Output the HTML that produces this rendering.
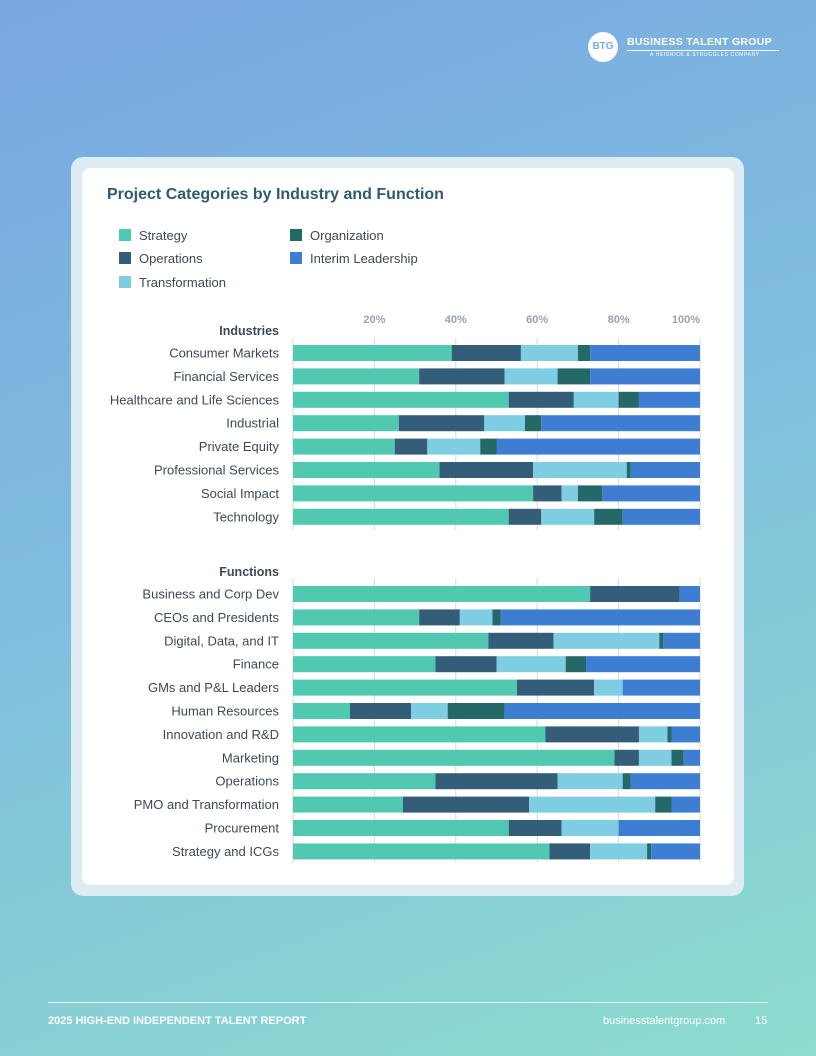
<!DOCTYPE html>
<html><head><meta charset="utf-8"><style>
body{margin:0;width:816px;height:1056px;overflow:hidden;font-family:"Liberation Sans",sans-serif;}
#page{position:relative;width:816px;height:1056px;background:linear-gradient(160deg,#79a7e0 0%,#80bddf 45%,#8ddcce 100%);}
.abs{position:absolute;}
</style></head><body>
<div id="page">
  <div class="abs" style="left:588px;top:32px;width:200px;height:32px;">
    <div class="abs" style="left:0;top:0;width:30px;height:30px;border-radius:50%;background:#fff;color:#7aaee0;font-weight:bold;font-size:10px;line-height:30px;text-align:center;">BTG</div>
    <div class="abs" style="left:39px;top:4px;color:#fff;font-weight:bold;font-size:10.5px;letter-spacing:0.3px;white-space:nowrap;">BUSINESS TALENT GROUP</div>
    <div class="abs" style="left:39px;top:18px;width:152px;height:1px;background:#fff;"></div>
    <div class="abs" style="left:62px;top:20px;color:#fff;font-size:5px;letter-spacing:0.6px;white-space:nowrap;">A HEIDRICK &amp; STRUGGLES COMPANY</div>
  </div>
  <div class="abs" style="left:71px;top:157px;width:673px;height:739px;border-radius:12px;background:#dcecf2;"></div>
  <div class="abs" style="left:82px;top:168px;width:652px;height:717px;border-radius:8px;background:#fff;"></div>
  <div class="abs" style="left:107px;top:186px;font-size:16px;font-weight:bold;color:#2f5a73;">Project Categories by Industry and Function</div>
  <svg id="chart" class="abs" style="left:0;top:0" width="816" height="1056"></svg>
  <div class="abs" style="left:48px;top:1002px;width:720px;height:1px;background:#e8f6f4;"></div>
  <div class="abs" style="left:48px;top:1015px;font-size:11px;font-weight:bold;color:#fff;">2025 HIGH-END INDEPENDENT TALENT REPORT</div>
  <div class="abs" style="left:603px;top:1015px;font-size:11px;color:#fff;">businesstalentgroup.com</div>
  <div class="abs" style="left:755px;top:1015px;font-size:11px;color:#fff;">15</div>
</div>
<script>
const seriesNames=["Strategy","Operations","Transformation","Organization","Interim Leadership"];
const colors=["#50c9b0","#335d78","#7ecde3","#256868","#3d7dd2"];
const industries=["Consumer Markets","Financial Services","Healthcare and Life Sciences","Industrial","Private Equity","Professional Services","Social Impact","Technology"];
const strategyInd=[39,31,53,26,25,36,59,53];
const operationsInd=[17,21,16,21,8,23,7,8];
const transformationInd=[14,13,11,10,13,23,4,13];
const organizationInd=[3,8,5,4,4,1,6,7];
const interimInd=[27,27,15,39,50,17,24,19];
const functions=["Business and Corp Dev","CEOs and Presidents","Digital, Data, and IT","Finance","GMs and P&L Leaders","Human Resources","Innovation and R&D","Marketing","Operations","PMO and Transformation","Procurement","Strategy and ICGs"];
const strategyFn=[73,31,48,35,55,14,62,79,35,27,53,63];
const operationsFn=[22,10,16,15,19,15,23,6,30,31,13,10];
const transformationFn=[0,8,26,17,7,9,7,8,16,31,14,14];
const organizationFn=[0,2,1,5,0,14,1,3,2,4,0,1];
const interimFn=[5,49,9,28,19,48,7,4,17,7,20,12];
const tickLabels=["20%","40%","60%","80%","100%"];
const tickValues=[20,40,60,80,100];

const NS="http://www.w3.org/2000/svg";
const svg=document.getElementById('chart');
const x0=293,x1=700;
const xs=v=>x0+(x1-x0)*v/100;
function mk(tag,attrs){const e=document.createElementNS(NS,tag);for(const k in attrs)e.setAttribute(k,attrs[k]);svg.appendChild(e);return e;}

// legend
const legendPos=[[119,235],[119,258],[119,282],[290,235],[290,258]];
seriesNames.forEach((n,i)=>{
  const r=mk('rect',{x:legendPos[i][0],y:legendPos[i][1]-6,width:12,height:12,fill:colors[i]});
  
  
  const t=mk('text',{x:legendPos[i][0]+20,y:legendPos[i][1]+5,'font-size':13,fill:'#3d4a55','font-family':'Liberation Sans, sans-serif'});
  t.textContent=n;
  
  
});

// x tick labels
tickValues.forEach((v,i)=>{
  const t=mk('text',{x:xs(v)-(v===100?14:0),y:323,'text-anchor':'middle','font-size':11,'font-weight':'bold',fill:'#9aa3ab','font-family':'Liberation Sans, sans-serif'});
  t.textContent=tickLabels[i];
  
  
});

function group(title,titleY,cats,series,y0,step,gTop,gBot){
  [0].concat(tickValues).forEach(v=>{
    const l=mk('line',{x1:xs(v),x2:xs(v),y1:gTop,y2:gBot,stroke:'#d6d9dc','stroke-width':1});
    
    
  });
  const h=mk('text',{x:279,y:titleY,'text-anchor':'end','font-size':12.5,'font-weight':'bold',fill:'#3d4a55','font-family':'Liberation Sans, sans-serif'});
  h.textContent=title;
  
  
  cats.forEach((c,i)=>{
    const cy=y0+i*step;
    const t=mk('text',{x:279,y:cy+4.5,'text-anchor':'end','font-size':13,fill:'#3d4a55','font-family':'Liberation Sans, sans-serif'});
    t.textContent=c;
    
    
    let acc=0;
    series.forEach((s,k)=>{
      const v=s[i];
      if(v>0){
        const r=mk('rect',{x:xs(acc),y:cy-8,width:xs(acc+v)-xs(acc),height:16,fill:colors[k]});
        
        
      }
      acc+=v;
    });
  });
}
group('Industries',335,industries,[strategyInd,operationsInd,transformationInd,organizationInd,interimInd],353,23.4,338,530);
group('Functions',576,functions,[strategyFn,operationsFn,transformationFn,organizationFn,interimFn],594,23.4,578,863);
</script>
</body></html>
